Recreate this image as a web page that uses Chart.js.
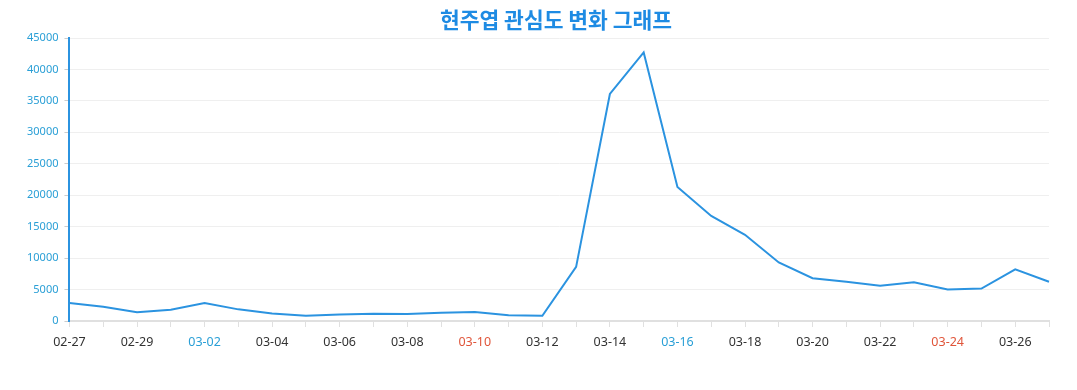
<!DOCTYPE html>
<html>
<head>
<meta charset="utf-8">
<script src="https://cdn.jsdelivr.net/npm/chart.js@4"></script>
<style>
    html, body { margin: 0; padding: 0; background: #fff; }
    #wrap { width: 1077px; height: 390px; }
</style>
</head>
<body>
<div id="wrap"><canvas id="interestChart"></canvas></div>
<script>
// 날짜 (2024-02-27 ~ 2024-03-27)
const dateLabels = [
    '02-27', '02-28', '02-29', '03-01', '03-02', '03-03', '03-04', '03-05',
    '03-06', '03-07', '03-08', '03-09', '03-10', '03-11', '03-12', '03-13',
    '03-14', '03-15', '03-16', '03-17', '03-18', '03-19', '03-20', '03-21',
    '03-22', '03-23', '03-24', '03-25', '03-26', '03-27'
];

// 관심도 값
const interestValues = [
    2850, 2250, 1400, 1800, 2850, 1850, 1200, 850,
    1050, 1150, 1100, 1300, 1450, 900, 830, 8600,
    36100, 42700, 21300, 16700, 13700, 9300, 6800, 6250,
    5600, 6150, 5000, 5150, 8200, 6250
];

const saturdayLabels = ['03-02', '03-09', '03-16', '03-23'];
const sundayLabels = ['03-03', '03-10', '03-17', '03-24'];

const yTicks = [0, 5000, 10000, 15000, 20000, 25000, 30000, 35000, 40000, 45000];

const chartTitle = '현주엽 관심도 변화 그래프';

// 제목은 캔버스 위에 직접 그림 (원본 위치에 맞추기 위해)
const titlePlugin = {
    id: 'titlePlugin',
    afterDraw(chart) {
        const c = chart.ctx;
        c.save();
        c.font = "bold 21.5px 'Noto Sans CJK KR', 'Noto Sans', sans-serif";
        c.fillStyle = '#1e8be3';
        c.textAlign = 'center';
        c.textBaseline = 'middle';
        c.fillText(chartTitle, 556, 20);
        c.restore();
    }
};

const ctx = document.getElementById('interestChart').getContext('2d');

new Chart(ctx, {
    type: 'line',
    data: {
        labels: dateLabels,
        datasets: [{
            label: '관심도',
            data: interestValues,
            borderColor: '#2b93e0',
            borderWidth: 2,
            pointRadius: 0,
            tension: 0,
            fill: false
        }]
    },
    plugins: [titlePlugin],
    options: {
        responsive: true,
        maintainAspectRatio: false,
        animation: false,
        layout: {
            padding: { left: 21, right: 28, top: 38, bottom: 32 }
        },
        plugins: {
            legend: { display: false },
            tooltip: { enabled: false },
            title: { display: false }
        },
        scales: {
            x: {
                offset: false,
                grid: {
                    display: true,
                    drawOnChartArea: false,
                    drawTicks: true,
                    tickLength: 6,
                    color: '#e0e0e0'
                },
                border: { color: '#e0e0e0', width: 2 },
                ticks: {
                    autoSkip: false,
                    maxRotation: 0,
                    padding: 8,
                    font: { family: "'Noto Sans', sans-serif", size: 12.5 },
                    color: function(c) {
                        const lbl = dateLabels[c.index];
                        if (saturdayLabels.includes(lbl)) return '#2a9fd6';
                        if (sundayLabels.includes(lbl)) return '#e0553a';
                        return '#333333';
                    },
                    callback: function(value, index) {
                        return index % 2 === 0 ? dateLabels[index] : '';
                    }
                }
            },
            y: {
                min: 0,
                max: 45000,
                afterBuildTicks: function(axis) {
                    axis.ticks = yTicks.map(v => ({ value: v }));
                },
                grid: {
                    color: '#efefef',
                    tickLength: 5,
                    tickColor: '#cccccc'
                },
                border: { color: '#2b93e0', width: 2 },
                ticks: {
                    padding: 6,
                    font: { family: "'Noto Sans', sans-serif", size: 11 },
                    color: '#2a9fd6',
                    callback: function(value) {
                        return String(value);
                    }
                }
            }
        }
    }
});
</script>
</body>
</html>
